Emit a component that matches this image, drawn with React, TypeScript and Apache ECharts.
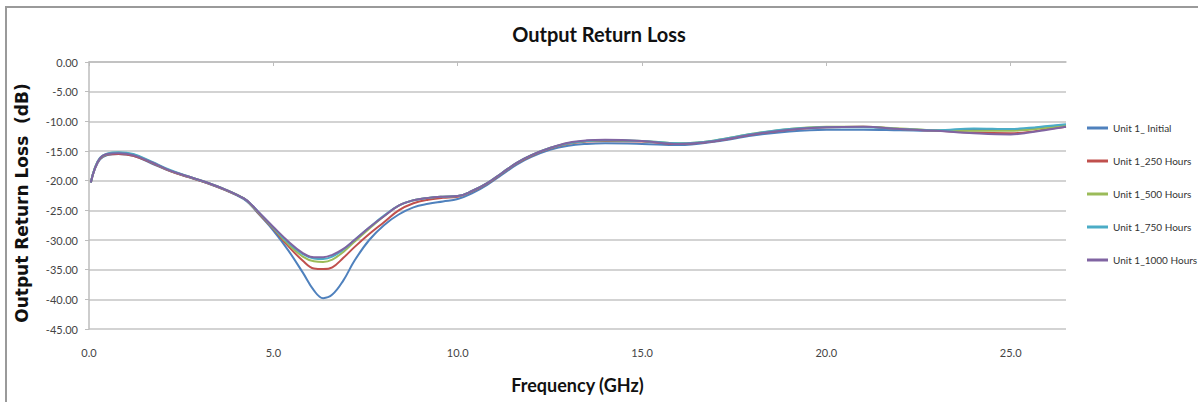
import React, { useEffect, useRef } from "react";
import * as echarts from "echarts";

const freq = [0.05, 0.15, 0.3, 0.5, 0.8, 1.2, 1.7, 2.2, 2.7, 3.2, 3.7, 4.2, 4.4, 4.6, 5.0, 5.4, 5.8, 6.1, 6.35, 6.6, 6.9, 7.2, 7.6, 8.0, 8.4, 8.8, 9.2, 9.6, 10.0, 10.4, 10.8, 11.2, 11.6, 12.0, 12.5, 13.0, 13.5, 14.0, 15.0, 16.0, 17.0, 18.0, 19.0, 20.0, 21.0, 22.0, 23.0, 24.0, 25.0, 25.5, 26.0, 26.5];

const unitInitial = [-20.3, -18.2, -16.4, -15.7, -15.5, -15.8, -17.1, -18.4, -19.4, -20.4, -21.6, -23.1, -24.2, -25.6, -28.4, -31.7, -35.5, -38.5, -39.8, -39.2, -36.8, -33.5, -30.0, -27.5, -25.7, -24.5, -23.9, -23.5, -23.1, -22.1, -20.7, -19.0, -17.3, -16.0, -14.8, -14.1, -13.8, -13.7, -13.8, -14.0, -13.4, -12.4, -11.7, -11.4, -11.4, -11.5, -11.6, -11.4, -11.4, -11.2, -10.9, -10.6];
const unit250 = [-20.3, -18.1, -16.3, -15.6, -15.5, -15.8, -17.0, -18.4, -19.4, -20.4, -21.6, -23.0, -24.1, -25.5, -28.1, -31.0, -33.5, -34.8, -34.9, -34.6, -33.0, -31.2, -29.0, -27.0, -25.0, -23.8, -23.2, -22.9, -22.7, -21.8, -20.5, -18.8, -17.1, -15.8, -14.6, -13.8, -13.4, -13.3, -13.4, -13.8, -13.3, -12.2, -11.4, -11.0, -10.9, -11.3, -11.6, -11.9, -12.0, -11.8, -11.3, -10.9];
const unit500 = [-20.3, -18.0, -16.2, -15.5, -15.3, -15.6, -16.9, -18.3, -19.3, -20.3, -21.5, -23.0, -24.1, -25.4, -28.0, -30.7, -32.8, -33.6, -33.7, -33.3, -32.0, -30.3, -28.1, -26.0, -24.2, -23.3, -22.9, -22.7, -22.6, -21.7, -20.4, -18.7, -17.0, -15.7, -14.5, -13.7, -13.3, -13.2, -13.3, -13.7, -13.2, -12.1, -11.3, -10.9, -10.9, -11.2, -11.5, -11.6, -11.6, -11.4, -11.1, -10.7];
const unit750 = [-20.3, -18.0, -16.1, -15.4, -15.2, -15.5, -16.8, -18.2, -19.3, -20.3, -21.5, -23.0, -24.0, -25.3, -27.9, -30.4, -32.4, -33.1, -33.2, -32.8, -31.6, -30.0, -27.9, -25.9, -24.2, -23.3, -22.9, -22.7, -22.6, -21.7, -20.4, -18.7, -17.0, -15.7, -14.5, -13.7, -13.3, -13.2, -13.3, -13.7, -13.2, -12.1, -11.3, -11.0, -11.0, -11.3, -11.5, -11.2, -11.3, -11.1, -10.8, -10.5];
const unit1000 = [-20.3, -18.1, -16.2, -15.5, -15.4, -15.7, -16.9, -18.3, -19.3, -20.3, -21.5, -23.0, -24.0, -25.3, -27.8, -30.2, -32.2, -32.9, -32.9, -32.5, -31.5, -30.0, -27.9, -26.0, -24.2, -23.3, -22.9, -22.7, -22.6, -21.7, -20.4, -18.7, -17.0, -15.7, -14.5, -13.6, -13.2, -13.1, -13.3, -13.8, -13.3, -12.2, -11.4, -11.0, -10.9, -11.3, -11.6, -12.0, -12.2, -11.9, -11.4, -10.9];

const seriesNames = ["Unit 1_ Initial", "Unit 1_250 Hours", "Unit 1_500 Hours", "Unit 1_750 Hours", "Unit 1_1000 Hours"];
const seriesValues = [unitInitial, unit250, unit500, unit750, unit1000];
const seriesColors = ["#4F81BD", "#C0504D", "#9BBB59", "#4BACC6", "#8064A2"];

const xTicks = [0, 5, 10, 15, 20, 25];

const narrow = "Lato, 'Liberation Sans', sans-serif";

export default function App() {
  const ref = useRef<HTMLDivElement>(null);
  useEffect(() => {
    if (!ref.current) return;
    const chart = echarts.init(ref.current, null, { renderer: "svg" });
    chart.setOption({
      animation: false,
      backgroundColor: "#ffffff",
      title: {
        text: "Output Return Loss",
        left: "center",
        top: 19,
        textStyle: { fontFamily: narrow, fontWeight: "bold", fontSize: 20, color: "#111" },
      },
      graphic: [
        {
          type: "rect",
          shape: { x: 6, y: 7, width: 1250, height: 450 },
          style: { fill: "none", stroke: "#9a9a9a", lineWidth: 2 },
          silent: true,
        },
        {
          type: "text",
          x: 22,
          y: 203,
          rotation: Math.PI / 2,
          style: {
            text: "Output Return Loss  (dB)",
            font: "bold 17px 'DejaVu Sans', Verdana, sans-serif",
            fill: "#111",
            align: "center",
            verticalAlign: "middle",
          },
          silent: true,
        },
      ],
      legend: {
        orient: "vertical",
        left: 1082,
        top: 118,
        itemWidth: 21,
        itemHeight: 3,
        itemGap: 23,
        icon: "rect",
        textStyle: { fontFamily: narrow, fontSize: 10, color: "#333" },
        data: seriesNames,
      },
      grid: { left: 89, right: 132, top: 62, bottom: 73, containLabel: false },
      xAxis: {
        type: "value",
        min: 0,
        max: 26.5,
        interval: 5,
        name: "Frequency (GHz)",
        nameLocation: "middle",
        nameGap: 47,
        nameTextStyle: { fontFamily: narrow, fontWeight: "bold", fontSize: 18, color: "#111" },
        axisLine: { show: true, lineStyle: { color: "#bdbdbd", width: 1.5 } },
        axisTick: { show: true, length: 4, customValues: xTicks, lineStyle: { color: "#bdbdbd" } },
        axisLabel: {
          customValues: xTicks,
          margin: 18,
          fontFamily: narrow,
          fontSize: 11,
          color: "#444",
          formatter: (v: number) => v.toFixed(1),
        },
        splitLine: { show: false },
      },
      yAxis: {
        type: "value",
        min: -45,
        max: 0,
        interval: 5,
        axisLine: { show: true, lineStyle: { color: "#bdbdbd", width: 1.5 } },
        axisTick: { show: true, length: 4, lineStyle: { color: "#bdbdbd" } },
        axisLabel: {
          margin: 11,
          fontFamily: narrow,
          fontSize: 11,
          color: "#444",
          formatter: (v: number) => v.toFixed(2),
        },
        splitLine: { show: true, lineStyle: { color: "#c4c4c4", width: 1.5 } },
      },
      series: seriesNames.map((name, i) => ({
        name,
        type: "line",
        smooth: 0.4,
        showSymbol: false,
        symbol: "none",
        color: seriesColors[i],
        lineStyle: { width: 2, color: seriesColors[i] },
        data: freq.map((f, j) => [f, seriesValues[i][j]]),
        z: 2 + i,
      })),
    });
    return () => chart.dispose();
  }, []);
  return <div ref={ref} style={{ position: "fixed", left: 0, top: 0, width: 1198, height: 402 }} />;
}
